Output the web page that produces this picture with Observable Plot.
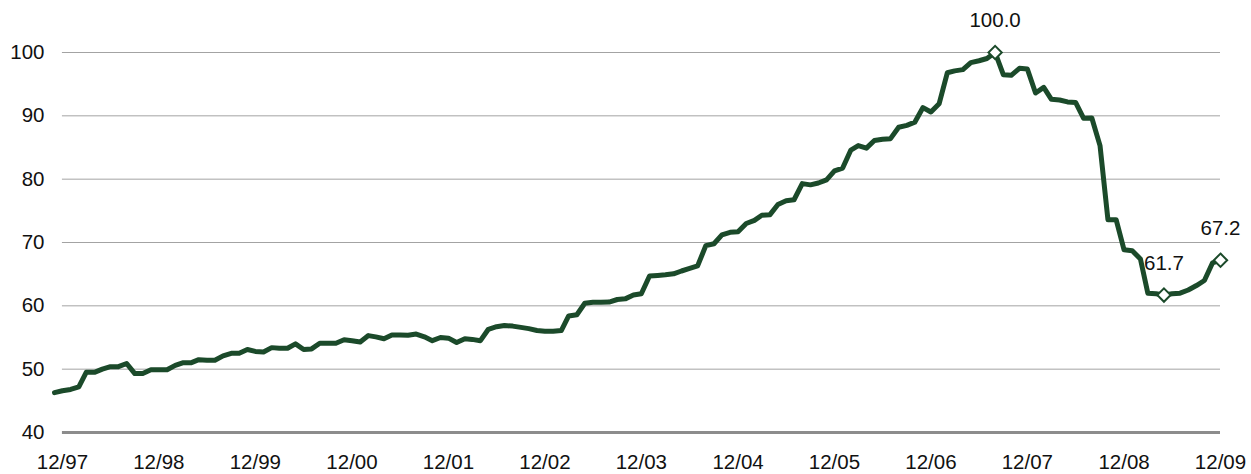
<!DOCTYPE html>
<html>
<head>
<meta charset="utf-8">
<script src="https://cdn.jsdelivr.net/npm/d3@7"></script>
<script src="https://cdn.jsdelivr.net/npm/@observablehq/plot@0.6"></script>
<style>
  html, body { margin: 0; padding: 0; background: #fff; }
  #chart svg { display: block; }
</style>
</head>
<body>
<div id="chart"></div>
<script>
// Monthly index values, Nov 1997 .. Dec 2009
const startMonth = "1997-11-01";
const values = [
  46.3, 46.6, 46.8, 47.2, 49.5, 49.5, 50.0, 50.4, 50.4, 50.9, 49.3, 49.3,
  49.9, 49.9, 49.9, 50.6, 51.0, 51.0, 51.5, 51.4, 51.4, 52.1, 52.5, 52.5,
  53.1, 52.8, 52.7, 53.4, 53.3, 53.3, 54.0, 53.1, 53.2, 54.1, 54.1, 54.1,
  54.65, 54.5, 54.3, 55.3, 55.1, 54.8, 55.4, 55.4, 55.35, 55.55, 55.1, 54.5,
  55.0, 54.9, 54.2, 54.8, 54.7, 54.5, 56.3, 56.7, 56.9, 56.8, 56.6, 56.4,
  56.1, 56.0, 56.0, 56.1, 58.4, 58.6, 60.4, 60.55, 60.55, 60.6, 61.0, 61.1,
  61.7, 61.9, 64.7, 64.8, 64.9, 65.05, 65.5, 65.9, 66.3, 69.5, 69.8, 71.2,
  71.6, 71.7, 73.0, 73.5, 74.3, 74.4, 76.0, 76.6, 76.75, 79.3, 79.1, 79.4,
  79.9, 81.3, 81.75, 84.6, 85.3, 84.9, 86.1, 86.3, 86.4, 88.2, 88.5, 89.0,
  91.3, 90.6, 91.9, 96.8, 97.1, 97.3, 98.4, 98.7, 99.05, 100.0, 96.5, 96.4,
  97.5, 97.4, 93.6, 94.5, 92.6, 92.5, 92.2, 92.1, 89.6, 89.65, 85.3, 73.6,
  73.6, 68.85, 68.7, 67.4, 62.0, 61.9, 61.7, 61.9, 62.0, 62.5, 63.2, 64.0,
  66.8, 67.2
];

// Axis ticks
const yTicks = [40, 50, 60, 70, 80, 90, 100];
const gridValues = [50, 60, 70, 80, 90, 100];
const xTickDates = ["1997-12-01","1998-12-01","1999-12-01","2000-12-01","2001-12-01","2002-12-01",
                    "2003-12-01","2004-12-01","2005-12-01","2006-12-01","2007-12-01","2008-12-01","2009-12-01"];
const xTickLabels = ["12/97","12/98","12/99","12/00","12/01","12/02","12/03","12/04","12/05","12/06","12/07","12/08","12/09"];

// Highlighted points
const markDates = ["2007-08-01", "2009-05-01", "2009-12-01"];
const markLabels = ["100.0", "61.7", "67.2"];
const markValues = [100.0, 61.7, 67.2];

const start = new Date(startMonth);
const data = values.map((v, i) => ({date: d3.utcMonth.offset(start, i), value: v}));
const ticks = xTickDates.map(d => new Date(d));
const labelOf = new Map(ticks.map((t, i) => [+t, xTickLabels[i]]));
const marks = markDates.map((d, i) => ({date: new Date(d), value: markValues[i], label: markLabels[i]}));

const font = "'Liberation Sans', Arial, sans-serif";
const lineColor = "#1b4a2a";
const fs = 20.5;

const chart = Plot.plot({
  width: 1251,
  height: 474,
  marginTop: 52,
  marginBottom: 42,
  marginLeft: 54,
  marginRight: 31,
  style: {fontFamily: font, fontSize: fs + "px", color: "#111", background: "#fff", overflow: "visible"},
  x: {type: "utc", domain: [new Date(startMonth), new Date("2009-12-01")]},
  y: {domain: [40, 100]},
  marks: [
    Plot.ruleY(gridValues, {x1: ticks[0], x2: ticks[ticks.length - 1], stroke: "#a3a3a3", strokeWidth: 1}),
    Plot.ruleY([40], {x1: ticks[0], x2: ticks[ticks.length - 1], stroke: "#8c8c8c", strokeWidth: 3}),
    Plot.axisY({ticks: yTicks, tickSize: 0, tickPadding: 10, label: null, fontSize: fs}),
    Plot.axisX({ticks: ticks, tickFormat: d => labelOf.get(+d), tickSize: 0, tickPadding: 22, label: null, fontSize: fs}),
    Plot.line(data, {x: "date", y: "value", stroke: lineColor, strokeWidth: 5, strokeLinejoin: "round"}),
    Plot.dot(marks, {x: "date", y: "value", symbol: "diamond2", r: 6, fill: "white", stroke: lineColor, strokeWidth: 2}),
    Plot.text(marks, {x: "date", y: "value", text: "label", dy: -32, fontSize: fs, fill: "#111"})
  ]
});
document.getElementById("chart").appendChild(chart);
</script>
</body>
</html>
